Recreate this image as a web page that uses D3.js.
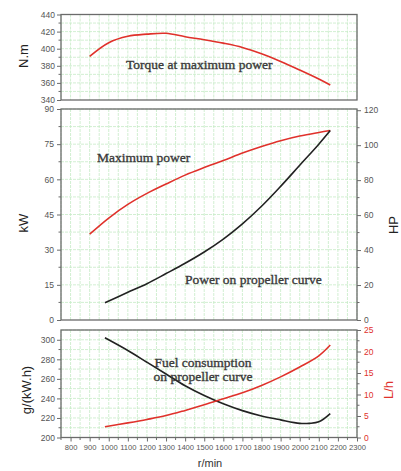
<!DOCTYPE html>
<html><head><meta charset="utf-8">
<script src="https://cdn.jsdelivr.net/npm/d3@7/dist/d3.min.js"></script>
<style>body{margin:0;background:#fff}svg{display:block}</style>
</head><body>
<svg id="c" width="401" height="471"></svg>
<script>
// ---- data ----
const torqueRpm = [900,1000,1100,1200,1300,1400,1500,1600,1700,1800,1900,2000,2100,2160];
const torqueNm  = [391,407,414.5,417,418,414,410.5,406.5,401.5,394,385,375,364.5,357.5];

const maxPowRpm = [900,1000,1100,1200,1300,1400,1500,1600,1700,1800,1900,2000,2100,2160];
const maxPowKw  = [36.6,43.5,49.3,54,58,61.8,65,68,71.2,74,76.5,78.5,80,80.8];

const propRpm = [980,1100,1200,1300,1400,1500,1600,1700,1800,1900,2000,2100,2160];
const propKw  = [7.4,11.8,15.5,19.8,24.2,29,34.5,41,48.5,57,66,75,80.8];

const fuelRpm = [980,1100,1200,1300,1400,1500,1600,1700,1800,1900,2000,2050,2100,2160];
const fuelGkwh = [302,289,277,265,253,243,234.5,227.5,222,218,214.5,214.5,216,224.5];

const lhRpm = [980,1100,1200,1300,1400,1500,1600,1700,1800,1900,2000,2100,2160];
const lhVal = [2.5,3.4,4.2,5.1,6.3,7.6,9.0,10.4,12.1,14.1,16.4,19.0,21.5];

const xTicks = [800,900,1000,1100,1200,1300,1400,1500,1600,1700,1800,1900,2000,2100,2200,2300];
const torqueTicks = [340,360,380,400,420,440];
const kwTicks = [0,15,30,45,60,75,90];
const hpTicks = [0,20,40,60,80,100,120];
const gTicks = [200,220,240,260,280,300];
const lhTicks = [0,5,10,15,20,25];

// ---- layout ----
const svg = d3.select("#c");
const L = 61, R = 357;
const red = "#e0312b", black = "#222", axisCol = "#6b6b6b", gridCol = "#c6ebc6", tickTxt = "#555";
const x = d3.scaleLinear().domain([750,2300]).range([L,R]);

const panels = {
  top: {y0:14.5, y1:100},
  mid: {y0:109, y1:320},
  bot: {y0:330, y1:437.5}
};
const yT = d3.scaleLinear().domain([340,440]).range([panels.top.y1, panels.top.y0]);
const yK = d3.scaleLinear().domain([0,90]).range([panels.mid.y1, panels.mid.y0]);
const yH = d3.scaleLinear().domain([0,90/0.7457]).range([panels.mid.y1, panels.mid.y0]);
const yG = d3.scaleLinear().domain([200,310]).range([panels.bot.y1, panels.bot.y0]);
const yL = d3.scaleLinear().domain([0,25]).range([panels.bot.y1, panels.bot.y0]);

function grid(p, yScale, step, yMax) {
  const g = svg.append("g");
  const vx = d3.range(750, 2301, 50);
  g.selectAll("line.v").data(vx).join("line")
    .attr("x1", d=>x(d)).attr("x2", d=>x(d)).attr("y1", p.y0).attr("y2", p.y1)
    .attr("stroke", gridCol).attr("stroke-width", 0.8).attr("stroke-dasharray","3,1");
  const d0 = yScale.domain();
  const hy = d3.range(d0[0]+step, (yMax!==undefined?yMax:d0[1])+1e-6, step);
  g.selectAll("line.h").data(hy).join("line")
    .attr("x1", L).attr("x2", R).attr("y1", d=>yScale(d)).attr("y2", d=>yScale(d))
    .attr("stroke", gridCol).attr("stroke-width", 0.8).attr("stroke-dasharray","3,1");
}
grid(panels.top, yT, 10);
grid(panels.mid, yK, 7.5);
grid(panels.bot, yG, 10, 310);

function frame(p) {
  svg.append("rect").attr("x", L).attr("y", p.y0).attr("width", R-L).attr("height", p.y1-p.y0)
    .attr("fill","none").attr("stroke", axisCol).attr("stroke-width", 1.3);
}
frame(panels.top); frame(panels.mid); frame(panels.bot);

function styleAxis(g, col) {
  g.select(".domain").remove();
  g.selectAll("line").attr("stroke", axisCol).attr("stroke-width", 1);
  g.selectAll("text").attr("fill", col).style("font-family","'Liberation Sans', Arial, sans-serif").style("font-size","8.5px");
}
function minorTicks(scale, values, side) {
  const g = svg.append("g");
  g.selectAll("line").data(values).join("line")
    .attr("x1", side==="left"?L-2.5:(side==="right"?R:0))
    .attr("x2", side==="left"?L:(side==="right"?R+2.5:0))
    .attr("y1", d=>scale(d)).attr("y2", d=>scale(d))
    .attr("stroke", axisCol).attr("stroke-width", 1);
}

// left axes
styleAxis(svg.append("g").attr("transform",`translate(${L},0)`)
  .call(d3.axisLeft(yT).tickValues(torqueTicks).tickSize(4).tickPadding(2).tickFormat(d3.format("d"))), tickTxt);
minorTicks(yT, d3.range(350,440,20), "left");
styleAxis(svg.append("g").attr("transform",`translate(${L},0)`)
  .call(d3.axisLeft(yK).tickValues(kwTicks).tickSize(4).tickPadding(3).tickFormat(d3.format("d"))), tickTxt);
minorTicks(yK, d3.range(7.5,90,15), "left");
styleAxis(svg.append("g").attr("transform",`translate(${L},0)`)
  .call(d3.axisLeft(yG).tickValues(gTicks).tickSize(4).tickPadding(2).tickFormat(d3.format("d"))), tickTxt);
minorTicks(yG, d3.range(210,310,20), "left");

// right axes
styleAxis(svg.append("g").attr("transform",`translate(${R},0)`)
  .call(d3.axisRight(yH).tickValues(hpTicks).tickSize(4).tickPadding(3).tickFormat(d3.format("d"))), tickTxt);
minorTicks(yH, d3.range(10,120,20), "right");
styleAxis(svg.append("g").attr("transform",`translate(${R},0)`)
  .call(d3.axisRight(yL).tickValues(lhTicks).tickSize(4).tickPadding(3).tickFormat(d3.format("d"))), red);
minorTicks(yL, d3.range(2.5,25,5), "right");

// bottom x axis
const xa = svg.append("g").attr("transform",`translate(0,${panels.bot.y1})`)
  .call(d3.axisBottom(x).tickValues(xTicks).tickSize(4).tickPadding(3).tickFormat(d3.format("d")));
styleAxis(xa, tickTxt);
xa.selectAll("text").style("font-size","7.6px");
svg.append("g").selectAll("line").data(d3.range(750,2300,100)).join("line")
  .attr("x1", d=>x(d)).attr("x2", d=>x(d)).attr("y1", panels.bot.y1).attr("y2", panels.bot.y1+2.5)
  .attr("stroke", axisCol).attr("stroke-width", 1);

// lines
function curve(rpms, vals, yScale, col) {
  const pts = rpms.map((r,i)=>[r, vals[i]]);
  svg.append("path").datum(pts)
    .attr("d", d3.line().x(d=>x(d[0])).y(d=>yScale(d[1])).curve(d3.curveCatmullRom.alpha(0.5)))
    .attr("fill","none").attr("stroke", col).attr("stroke-width", 1.6);
}
curve(torqueRpm, torqueNm, yT, red);
curve(maxPowRpm, maxPowKw, yK, red);
curve(propRpm, propKw, yK, black);
curve(fuelRpm, fuelGkwh, yG, black);
curve(lhRpm, lhVal, yL, red);

// annotations
function ann(txt, cx, cy, anchor) {
  svg.append("text").attr("x", cx).attr("y", cy).attr("text-anchor", anchor||"start")
    .attr("dominant-baseline","central")
    .style("font-family","'Liberation Serif', 'DejaVu Serif', serif").style("font-size","13.5px")
    .attr("fill","#3a3a3a").attr("stroke","#3a3a3a").attr("stroke-width",0.35).text(txt);
}
ann("Torque at maximum power", 126, 64);
ann("Maximum power", 97, 157.5);
ann("Power on propeller curve", 185, 279);
ann("Fuel consumption", 203, 362, "middle");
ann("on propeller curve", 203, 376, "middle");

// axis titles
function vtitle(txt, cx, cy, col) {
  svg.append("text").attr("transform",`translate(${cx},${cy}) rotate(-90)`)
    .attr("text-anchor","middle").attr("dominant-baseline","central")
    .style("font-family","'Liberation Sans', Arial, sans-serif").style("font-size","13px")
    .attr("fill", col).text(txt);
}
vtitle("N.m", 23, 56, "#222");
vtitle("kW", 23, 223, "#222");
vtitle("g/(kW.h)", 26, 390, "#222");
vtitle("HP", 393, 225, "#222");
vtitle("L/h", 388, 390, red);

svg.append("text").attr("x", 210).attr("y", 463).attr("text-anchor","middle").attr("dominant-baseline","central")
  .style("font-family","'Liberation Sans', Arial, sans-serif").style("font-size","11px").attr("fill","#333").text("r/min");
</script>
</body></html>
